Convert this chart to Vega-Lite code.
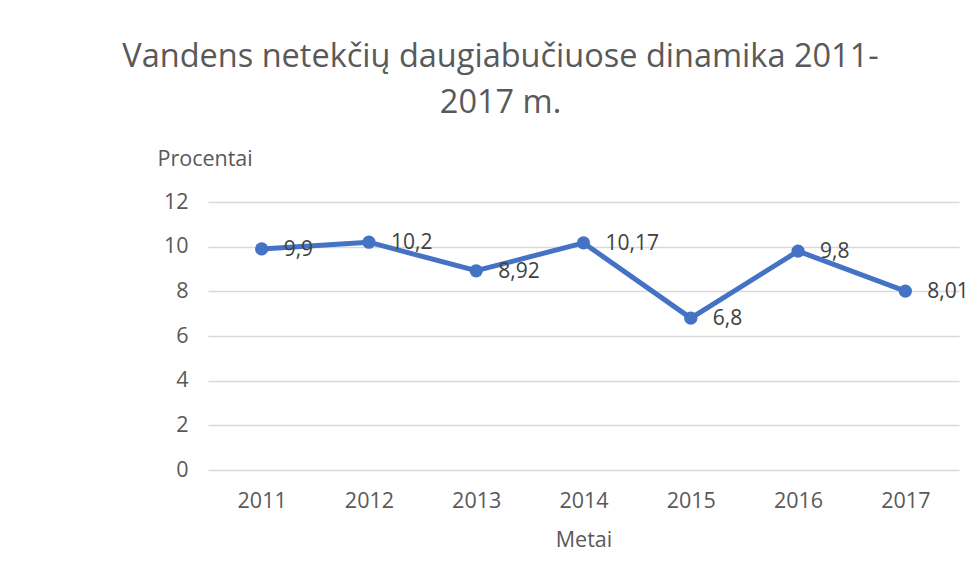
{
  "$schema": "https://vega.github.io/schema/vega-lite/v6.json",
  "width": 751,
  "height": 268,
  "autosize": {"type": "none"},
  "padding": {"left": 208, "top": 202, "right": 18, "bottom": 114},
  "background": "white",
  "title": {
    "text": ["Vandens netekčių daugiabučiuose dinamika 2011-", "2017 m."],
    "font": "Open Sans",
    "fontSize": 32.5,
    "fontWeight": "normal",
    "color": "#595959",
    "lineHeight": 46,
    "anchor": "middle",
    "dx": -83,
    "offset": 29
  },
  "data": {
    "values": [
      {"year": "2011", "value": 9.9},
      {"year": "2012", "value": 10.2},
      {"year": "2013", "value": 8.92},
      {"year": "2014", "value": 10.17},
      {"year": "2015", "value": 6.8},
      {"year": "2016", "value": 9.8},
      {"year": "2017", "value": 8.01}
    ]
  },
  "encoding": {
    "x": {
      "field": "year",
      "type": "ordinal",
      "scale": {"paddingInner": 0, "paddingOuter": 0.5},
      "axis": {
        "title": "Metai",
        "labelAngle": 0,
        "domain": false,
        "ticks": false,
        "labelPadding": 20,
        "titlePadding": 18
      }
    },
    "y": {
      "field": "value",
      "type": "quantitative",
      "scale": {"domain": [0, 12]},
      "axis": {
        "title": "Procentai",
        "values": [0, 2, 4, 6, 8, 10, 12],
        "domain": false,
        "ticks": false,
        "labelPadding": 20,
        "titleAngle": 0,
        "titleAlign": "left",
        "titleBaseline": "alphabetic",
        "titleX": -51,
        "titleY": -37,
        "gridColor": "#d9d9d9",
        "gridWidth": 1.3
      }
    }
  },
  "layer": [
    {
      "mark": {"type": "line", "color": "#4472c4", "strokeWidth": 5, "point": {"filled": true, "size": 175, "color": "#4472c4", "opacity": 1}}
    },
    {
      "mark": {"type": "text", "align": "left", "baseline": "middle", "dx": 22, "dy": 1, "font": "Open Sans", "fontSize": 21, "color": "#404040"},
      "encoding": {
        "text": {"field": "value", "type": "quantitative", "format": "~r"}
      }
    }
  ],
  "config": {
    "locale": {
      "number": {"decimal": ",", "thousands": " ", "grouping": [3], "currency": ["", " €"]}
    },
    "view": {"stroke": null},
    "axis": {
      "labelFont": "Open Sans",
      "labelFontSize": 21.5,
      "labelColor": "#595959",
      "titleFont": "Open Sans",
      "titleFontSize": 21.5,
      "titleFontWeight": "normal",
      "titleColor": "#595959"
    }
  }
}
